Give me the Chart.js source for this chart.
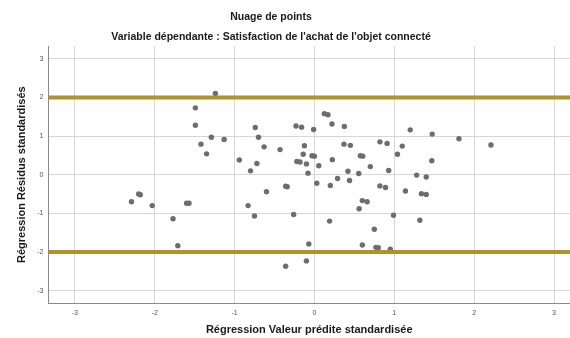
<!DOCTYPE html>
<html>
<head>
<meta charset="utf-8">
<script src="https://cdn.jsdelivr.net/npm/chart.js@4.4.1/dist/chart.umd.min.js"></script>
<style>
  html, body { margin: 0; padding: 0; background: #fff; }
  #wrap { width: 570px; height: 338px; overflow: hidden; }
</style>
</head>
<body>
<div id="wrap"><canvas id="nuage" width="570" height="338"></canvas></div>
<script>
const titre = "Nuage de points";
const sousTitre = "Variable dépendante : Satisfaction de l'achat de l'objet connecté";
const titreAxeX = "Régression Valeur prédite standardisée";
const titreAxeY = "Régression Résidus standardisés";

// valeurs (x = valeur prédite, y = résidu)
const valeursPredites = [
  -2.29, -2.20, -2.18, -2.03, -1.60, -1.57, -1.77, -1.71, -1.49, -1.49,
  -1.24, -1.29, -1.13, -1.42, -1.35, -0.74, -0.70, -0.63, -0.94, -0.72,
  -0.80, -0.60, -0.83, -0.75, 0.125, 0.17, -0.23, -0.16, -0.01, 0.22,
  0.375, -0.43, -0.125, -0.14, -0.03, 0.00, -0.22, -0.18, -0.10, 0.055,
  0.225, 0.37, 0.45, -0.08, 0.42, 0.44, 0.29, 0.03, 0.20, -0.36,
  -0.34, -0.26, 0.19, -0.07, -0.10, -0.36, 1.20, 1.475, 0.82, 0.91,
  1.10, 1.04, 0.575, 0.605, 0.70, 0.93, 0.555, 1.47, 1.28, 1.40,
  0.82, 0.89, 1.14, 1.34, 1.40, 0.60, 0.66, 0.56, 0.99, 1.32,
  0.75, 0.60, 0.77, 0.80, 0.95, 1.81, 2.21
];
const residus = [
  -0.70, -0.50, -0.52, -0.80, -0.74, -0.74, -1.14, -1.84, 1.73, 1.28,
  2.10, 0.97, 0.91, 0.79, 0.54, 1.22, 0.97, 0.72, 0.38, 0.29,
  0.10, -0.44, -0.80, -1.07, 1.58, 1.55, 1.26, 1.23, 1.17, 1.31,
  1.25, 0.65, 0.75, 0.53, 0.49, 0.48, 0.34, 0.33, 0.28, 0.23,
  0.39, 0.79, 0.76, 0.04, 0.09, -0.15, -0.10, -0.22, -0.28, -0.30,
  -0.31, -1.03, -1.20, -1.79, -2.23, -2.37, 1.16, 1.05, 0.85, 0.81,
  0.74, 0.53, 0.49, 0.48, 0.21, 0.11, 0.03, 0.36, -0.01, -0.06,
  -0.29, -0.33, -0.42, -0.49, -0.51, -0.67, -0.70, -0.88, -1.05, -1.18,
  -1.41, -1.82, -1.88, -1.89, -1.93, 0.93, 0.77
];
const graduationsX = [-3, -2, -1, 0, 1, 2, 3];
const graduationsY = [-3, -2, -1, 0, 1, 2, 3];
const lignesReference = [2, -2];

const police = "'Liberation Sans', Arial, sans-serif";

// titres centrés comme dans la sortie d'origine (pas sur la zone du graphique)
const titresPlugin = {
  id: "titres",
  afterDraw(chart, args, opts) {
    const ctx = chart.ctx;
    ctx.save();
    ctx.fillStyle = "#1a1a1a";
    ctx.textAlign = "center";
    ctx.textBaseline = "middle";
    ctx.font = "bold 10.5px " + police;
    ctx.fillText(titre, opts.centreX, 17);
    ctx.fillText(sousTitre, opts.centreX, 37);
    ctx.restore();
  },
};

// lignes de référence à +2 / -2
const lignesRefPlugin = {
  id: "lignesRef",
  afterDatasetsDraw(chart) {
    const { ctx, chartArea, scales } = chart;
    ctx.save();
    ctx.strokeStyle = "#b1922b";
    ctx.lineWidth = 4;
    lignesReference.forEach((v) => {
      const py = scales.y.getPixelForValue(v);
      ctx.beginPath();
      ctx.moveTo(chartArea.left, py);
      ctx.lineTo(chartArea.right, py);
      ctx.stroke();
    });
    ctx.restore();
  },
};

const axe = (graduations, texte, titrePadding) => ({
  type: "linear",
  afterBuildTicks: (s) => {
    s.ticks = graduations.map((v) => ({ value: v }));
  },
  grid: { color: "#d6d6d6", lineWidth: 1, drawTicks: false },
  border: { color: "#8a8a8a", width: 1 },
  ticks: {
    padding: 5,
    color: "#555",
    font: { size: 7, family: police },
    callback: (v) => String(v),
  },
  title: {
    display: true,
    text: texte,
    color: "#1a1a1a",
    font: { size: 11, weight: "bold", family: police },
    padding: titrePadding,
  },
});

const scaleX = axe(graduationsX, titreAxeX, { top: 2, bottom: 1 });
scaleX.min = -3.33;
scaleX.max = 3.2;
const scaleY = axe(graduationsY, titreAxeY, { top: 4, bottom: 4 });
scaleY.min = -3.33;
scaleY.max = 3.33;

new Chart(document.getElementById("nuage"), {
  type: "scatter",
  data: {
    datasets: [
      {
        label: "Résidus",
        data: valeursPredites.map((x, i) => ({ x, y: residus[i] })),
        pointRadius: 2.7,
        pointBackgroundColor: "#6d6d6d",
        pointBorderWidth: 0,
      },
    ],
  },
  options: {
    responsive: false,
    animation: false,
    // la zone de tracé va jusqu'au bord droit (image recadrée)
    layout: { autoPadding: false, padding: { top: 46, left: 11, right: 0, bottom: 0 } },
    plugins: {
      legend: { display: false },
      tooltip: { enabled: false },
      titres: { centreX: 271 },
    },
    scales: { x: scaleX, y: scaleY },
  },
  plugins: [lignesRefPlugin, titresPlugin],
});
</script>
</body>
</html>
